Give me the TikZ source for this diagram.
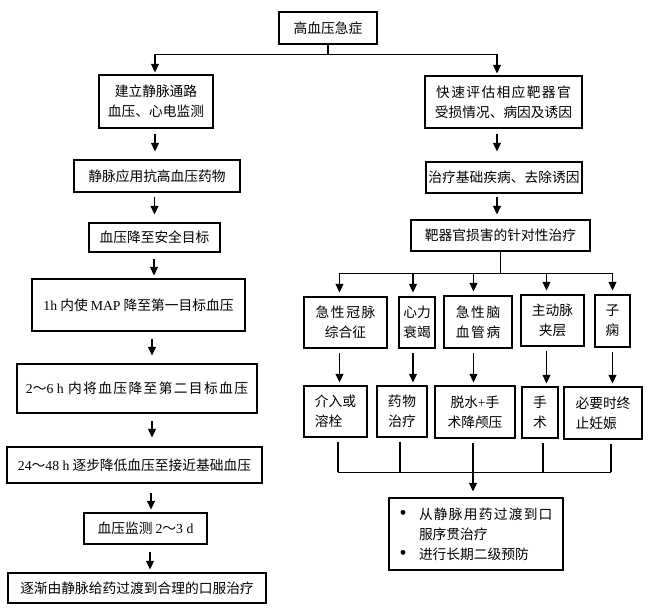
\documentclass[tikz,border=0pt]{standalone}
\usepackage{fontspec}
\setmainfont{Liberation Serif}
\newfontfamily\cjk{Noto Sans CJK SC}
\newcommand\latn[1]{{\rmfamily #1}}
\newcommand\lsp[2]{{\addfontfeature{LetterSpace=#1}#2}}
\newcommand\bul{{\rmfamily\fontsize{15}{15}\selectfont •}}
\usetikzlibrary{arrows.meta,calc}
\begin{document}
\begin{tikzpicture}[x=0.75pt,y=-0.75pt,
  box/.style={draw, line width=0.8pt, inner sep=0pt, align=center,
    font=\cjk\fontsize{10.3}{15}\selectfont},
  wh/.style 2 args={minimum width=#1*0.75pt, minimum height=#2*0.75pt},
  ln/.style={line width=0.8pt},
  arr/.style={ln, -{Triangle[width=6pt,length=6.5pt]}},
  gap/.style 2 args={shorten <=#1*0.75pt, shorten >=#2*0.75pt},
]
\path[fill=white] (0,0) rectangle (654,614);
\useasboundingbox (0,0) rectangle (654,614);

% top
\node[box, wh={98}{32}] (top) at (328,28) {高血压急症};

% left column
\node[box, wh={114}{53}] (L1) at (156,101.5) {建立静脉通路\\血压、心电监测};
\node[box, wh={166}{32}] (L2) at (157,176) {静脉应用抗高血压药物};
\node[box, wh={131}{29}] (L3) at (154.5,237.5) {血压降至安全目标};
\node[box, wh={213}{52}] (L4) at (138.5,305) {\latn{1h} 内使 \latn{MAP} 降至第一目标血压};
\node[box, wh={240}{49}] (L5) at (137,388.5) {\lsp{10}{\latn{2}～\latn{6 h} 内将血压降至第二目标血压}};
\node[box, wh={255}{36}] (L6) at (134.5,465) {\latn{24}～\latn{48 h} 逐步降低血压至接近基础血压};
\node[box, wh={123}{31}] (L7) at (145.5,528.5) {血压监测 \latn{2}～\latn{3 d}};
\node[box, wh={258}{30}] (L8) at (137,588) {逐渐由静脉给药过渡到合理的口服治疗};

% right column
\node[box, wh={157}{52}] (R1) at (503.5,102) {\lsp{10}{快速评估相应靶器官}\\受损情况、病因及诱因};
\node[box, wh={156}{31}] (R2) at (504,177.5) {治疗基础疾病、去除诱因};
\node[box, wh={179}{31}] (R3) at (500.5,235.5) {靶器官损害的针对性治疗};

% row 1
\node[box, wh={83}{51}] (A1) at (345.5,322.5) {\lsp{12}{急性冠脉}\\综合征};
\node[box, wh={36}{51}] (A2) at (417,322.5) {心力\\衰竭};
\node[box, wh={68}{52}] (A3) at (478,322) {\lsp{12}{急性脑}\\\lsp{12}{血管病}};
\node[box, wh={63}{51}] (A4) at (552.5,320.5) {主动脉\\夹层};
\node[box, wh={35}{52}] (A5) at (612.5,321) {子\\痫};

% row 2
\node[box, wh={63}{51}, align=left] (B1) at (335.5,411.5) {介入或\\溶栓};
\node[box, wh={50}{51}] (B2) at (402,411.5) {\lsp{6}{药物}\\治疗};
\node[box, wh={80}{52}] (B3) at (475,412) {脱水\latn{+}手\\术降颅压};
\node[box, wh={36}{51}] (B4) at (540,412.5) {手\\术};
\node[box, wh={78}{52}, align=left] (B5) at (603,413) {必要时终\\止妊娠};

% bottom box
\node[box, wh={174}{72}, align=left, text width=130.5pt] (C) at (476,534)
 {\hspace*{8pt}\makebox[14.5pt][l]{\bul}\lsp{9}{从静脉用药过渡到口}\\
  \hspace*{22.5pt}服序贯治疗\\
  \hspace*{8pt}\makebox[14.5pt][l]{\bul}进行长期二级预防};

% top split
\draw[ln] (top.south) -- ++(0,10) coordinate (ts);
\draw[arr, shorten >=1.5pt] (ts) -| ($(L1.north)+(-1,0)$);
\draw[arr, shorten >=1.5pt] (ts) -| ($(R1.north)+(-6.5,0)$);

% left arrows
\draw[arr, gap={5}{8}] ($(L1.south)+(-1,0)$) -- ($(L1.south |- L2.north)+(-1,0)$);
\draw[arr, gap={4}{8}] ($(L3.north |- L2.south)$) -- (L3.north);
\draw[arr, gap={6}{3}] ($(L3.south)+(-0.5,0)$) -- ($(L3.south |- L4.north)+(-0.5,0)$);
\draw[arr, gap={7}{8}] ($(L4.south)+(13.5,0)$) -- ($(L4.south |- L5.north)+(13.5,0)$);
\draw[arr, gap={7}{9}] ($(L5.south)+(15,0)$) -- ($(L5.south |- L6.north)+(15,0)$);
\draw[arr, gap={9}{3}] ($(L6.south)+(16.5,0)$) -- ($(L6.south |- L7.north)+(16.5,0)$);
\draw[arr, gap={7}{3}] ($(L7.south)+(4.5,0)$) -- ($(L7.south |- L8.north)+(4.5,0)$);

% right arrows
\draw[arr, gap={5}{10}] ($(R1.south)+(-6.5,0)$) -- ($(R1.south |- R2.north)+(-6.5,0)$);
\draw[arr, gap={3}{5}] ($(R2.south)+(-7,0)$) -- ($(R2.south |- R3.north)+(-7,0)$);

% split to row 1
\draw[ln] (R3.south) -- ++(0,22) coordinate (rs);
\foreach \n/\d in {A1/-6,A2/-4,A3/-4.5,A4/-6,A5/0}{
  \draw[arr, shorten >=3pt] (rs) -| ($(\n.north)+(\d,0)$);
}
% row1 -> row2
\foreach \a/\b/\d in {A1/B1/-6,A2/B2/-4,A3/B3/-4.5,A4/B4/-6,A5/B5/0}{
  \draw[arr, gap={4}{3}] ($(\a.south)+(\d,0)$) -- ($(\a.south |- \b.north)+(\d,0)$);
}

% merge
\coordinate (jy) at ($(C.north)+(0,-25)$);
\foreach \b/\d/\j in {B1/2.5/j1,B2/-2/j2,B3/-2/j3,B4/3/j4,B5/8/j5}{
  \coordinate (\j) at ($(\b.south |- jy)+(\d,0)$);
  \draw[ln, shorten <=3pt] ($(\b.south)+(\d,0)$) -- (\j);
}
\draw[ln] (j1) -- (j5);
\draw[arr, shorten >=4.5pt] (j3) -- (j3 |- C.north);
\end{tikzpicture}
\end{document}
